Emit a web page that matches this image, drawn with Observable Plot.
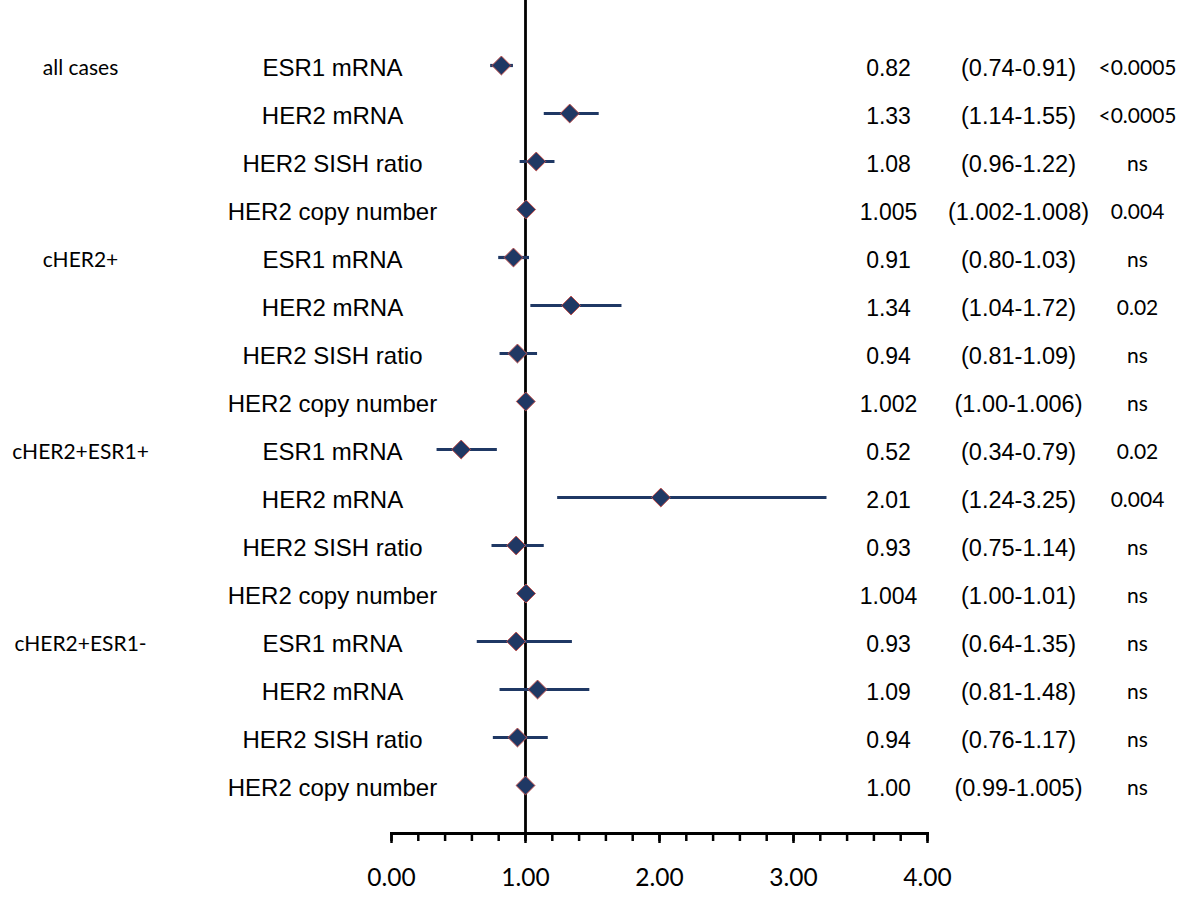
<!DOCTYPE html>
<html><head><meta charset="utf-8">
<script src="https://cdn.jsdelivr.net/npm/d3@7"></script>
<script src="https://cdn.jsdelivr.net/npm/@observablehq/plot@0.6"></script>
<style>body{margin:0;background:#fff;} #chart svg{display:block;}</style>
</head><body><div id="chart"></div>
<script>
const groups = ["all cases", "cHER2+", "cHER2+ESR1+", "cHER2+ESR1-"];
const measures = ["ESR1 mRNA", "HER2 mRNA", "HER2 SISH ratio", "HER2 copy number"];
const estimates = [0.82, 1.33, 1.08, 1.005, 0.91, 1.34, 0.94, 1.002, 0.52, 2.01, 0.93, 1.004, 0.93, 1.09, 0.94, 1.00];
const estLabels = ["0.82", "1.33", "1.08", "1.005", "0.91", "1.34", "0.94", "1.002", "0.52", "2.01", "0.93", "1.004", "0.93", "1.09", "0.94", "1.00"];
const lower = [0.74, 1.14, 0.96, 1.002, 0.80, 1.04, 0.81, 1.00, 0.34, 1.24, 0.75, 1.00, 0.64, 0.81, 0.76, 0.99];
const upper = [0.91, 1.55, 1.22, 1.008, 1.03, 1.72, 1.09, 1.006, 0.79, 3.25, 1.14, 1.01, 1.35, 1.48, 1.17, 1.005];
const ciLabels = ["(0.74-0.91)", "(1.14-1.55)", "(0.96-1.22)", "(1.002-1.008)", "(0.80-1.03)", "(1.04-1.72)", "(0.81-1.09)", "(1.00-1.006)", "(0.34-0.79)", "(1.24-3.25)", "(0.75-1.14)", "(1.00-1.01)", "(0.64-1.35)", "(0.81-1.48)", "(0.76-1.17)", "(0.99-1.005)"];
const pValues = ["<0.0005", "<0.0005", "ns", "0.004", "ns", "0.02", "ns", "ns", "0.02", "0.004", "ns", "ns", "ns", "ns", "ns", "ns"];
const majorTicks = [0, 1, 2, 3, 4];
const minorTicks = d3.ticks(0, 4, 20);

const rows = estimates.map((e, i) => ({
  row: i,
  group: i % 4 === 0 ? groups[Math.floor(i / 4)] : null,
  measure: measures[i % 4],
  est: e, lo: lower[i], hi: upper[i],
  estLabel: estLabels[i], ci: ciLabels[i], p: pValues[i]
}));
const groupRows = rows.filter(d => d.group);

const navy = "#1f3864";
const arial = "'Liberation Sans', Arial, sans-serif";
const calib = "Lato, 'Open Sans', sans-serif";

const plot = Plot.plot({
  width: 1200,
  height: 908,
  marginLeft: 391,
  marginRight: 273,
  marginTop: 0,
  marginBottom: 75,
  style: {background: "#fff", color: "#000"},
  x: {domain: [0, 4]},
  y: {type: "point", domain: d3.range(16), range: [64, 786], padding: 0, axis: null},
  marks: [
    Plot.ruleX([1], {stroke: "#000", strokeWidth: 2.8}),
    Plot.frame({anchor: "bottom", stroke: "#000", strokeWidth: 3}),
    Plot.axisX({ticks: minorTicks, tickSize: 8, tickFormat: () => "", strokeWidth: 2.5, label: null}),
    Plot.axisX({ticks: majorTicks, tickSize: 10, tickPadding: 25, tickFormat: d => d.toFixed(2), strokeWidth: 2.5,
      fontSize: 24.5, fontFamily: calib, fill: "#000", label: null}),
    Plot.ruleY(rows, {y: "row", x1: "lo", x2: "hi", stroke: navy, strokeWidth: 3.2}),
    Plot.dot(rows, {x: "est", y: "row", symbol: "diamond2", r: 8.5, fill: navy, stroke: "#c0504d", strokeWidth: 1}),
    Plot.text(groupRows, {y: "row", text: "group", frameAnchor: "left", dx: -311, dy: 3, textAnchor: "middle",
      fontSize: 21, fontFamily: calib, fill: "#000"}),
    Plot.text(rows, {y: "row", text: "measure", frameAnchor: "left", dx: -59, dy: 3, textAnchor: "middle",
      fontSize: 24, fontFamily: arial, fill: "#000"}),
    Plot.text(rows, {y: "row", text: "estLabel", frameAnchor: "left", dx: 497, dy: 3, textAnchor: "middle",
      fontSize: 23, fontFamily: arial, fill: "#000"}),
    Plot.text(rows, {y: "row", text: "ci", frameAnchor: "left", dx: 627, dy: 3, textAnchor: "middle",
      fontSize: 23.5, fontFamily: arial, fill: "#000"}),
    Plot.text(rows, {y: "row", text: "p", frameAnchor: "left", dx: 746, dy: 3, textAnchor: "middle",
      fontSize: 21, fontFamily: calib, fill: "#000"})
  ]
});
document.getElementById("chart").appendChild(plot);
</script>
</body></html>
